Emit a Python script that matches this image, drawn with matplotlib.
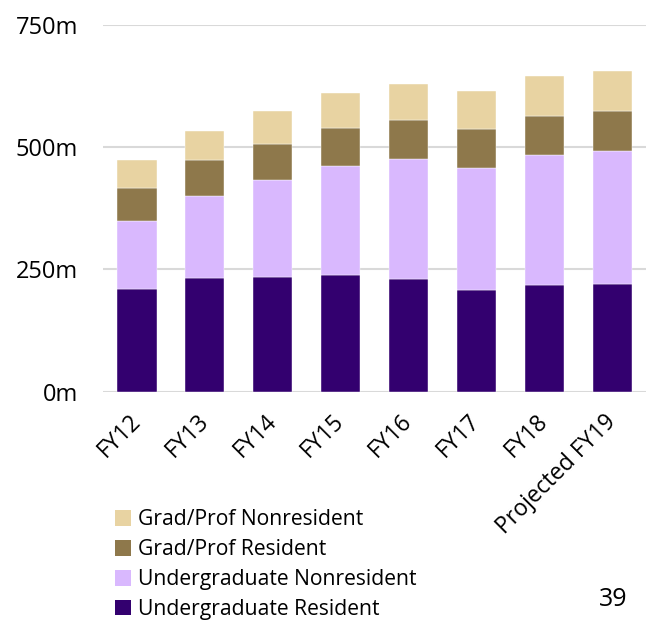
import matplotlib
matplotlib.use("Agg")
import matplotlib.pyplot as plt
from matplotlib.patches import Patch

categories = ["FY12", "FY13", "FY14", "FY15", "FY16", "FY17", "FY18", "Projected FY19"]
undergrad_resident = [210, 232, 234, 238, 230, 207, 218, 221]
undergrad_nonresident = [139, 169, 198, 224, 245, 251, 266, 271]
grad_resident = [68, 73, 75, 78, 80, 79, 80, 82]
grad_nonresident = [57, 59, 67, 71, 75, 77, 81, 81]
series_names = ["Undergraduate Resident", "Undergraduate Nonresident",
                "Grad/Prof Resident", "Grad/Prof Nonresident"]
yticks = [0, 250, 500, 750]
ytick_labels = ["0m", "250m", "500m", "750m"]

colors = ["#33006F", "#D9B8FE", "#8E784B", "#E8D3A2"]
plt.rcParams['font.family'] = ['Open Sans', 'DejaVu Sans']

fig = plt.figure(figsize=(6.49, 6.20), dpi=100)
ax = fig.add_axes([103/649, 228.3/620, 543.5/649, 366.7/620])

x = list(range(len(categories)))
series = [undergrad_resident, undergrad_nonresident, grad_resident, grad_nonresident]
bottom = [0]*len(categories)
handles = []
for vals, col, name in zip(series, colors, series_names):
    ax.bar(x, vals, width=0.575, bottom=bottom, color=col, zorder=3,
           edgecolor='white', linewidth=0.3)
    bottom = [b + v for b, v in zip(bottom, vals)]
    handles.append(Patch(facecolor=col, label=name))

ax.set_xlim(-0.5, 7.5)
ax.set_ylim(0, 750)
ax.set_yticks(yticks)
ax.set_yticklabels(ytick_labels, fontsize=17)
ax.yaxis.grid(True, color='#D9D9D9', linewidth=1.5, zorder=0)
ax.tick_params(axis='y', length=0, pad=18)
ax.tick_params(axis='x', length=0, pad=19)
ax.set_xticks(x)
ax.set_xticklabels(categories, rotation=45, ha='right', va='center',
                   rotation_mode='anchor', fontsize=16.5)
for s in ax.spines.values():
    s.set_visible(False)

leg = fig.legend(handles=handles[::-1], loc='upper left',
                 bbox_to_anchor=(107/649, 1 - 501/620), frameon=False,
                 fontsize=15.2, handlelength=0.75, handleheight=0.75,
                 handletextpad=0.3, labelspacing=0.42, borderaxespad=0)

fig.text(628/649, 1 - 600/620, "39", fontsize=18, ha='right', va='center')

fig.savefig("out.png", dpi=100)
